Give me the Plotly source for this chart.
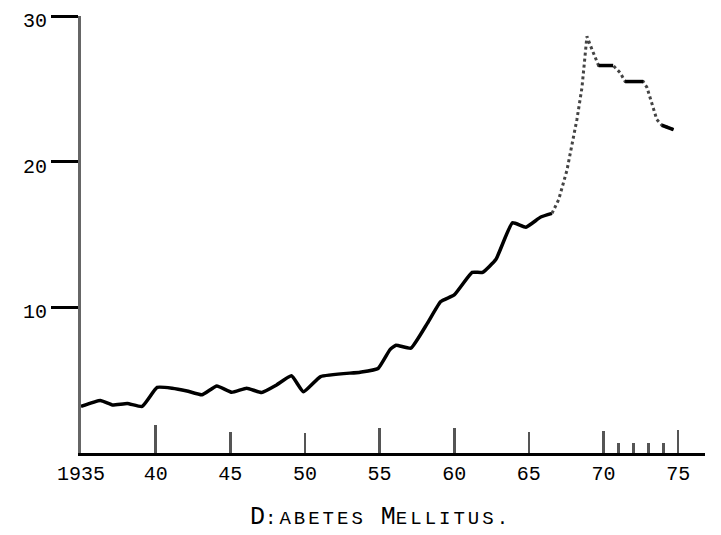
import plotly.graph_objects as go

# (year, rate)
early_years = [1935, 1936.3, 1937.1, 1938.1, 1939.1, 1940.1, 1941.1, 1942.1, 1943.1,
               1944.1, 1945.1, 1946.1, 1947.1, 1948.1, 1949.1, 1949.9, 1951.05,
               1953.7, 1954.9, 1955.7, 1956.1, 1957.1, 1958.2, 1959.1, 1960.0,
               1961.2, 1961.9, 1962.8, 1963.9, 1964.8, 1965.8, 1966.55]
early_vals = [3.2, 3.6, 3.3, 3.4, 3.2, 4.5, 4.45, 4.26, 4.0,
              4.6, 4.17, 4.45, 4.15, 4.67, 5.3, 4.2, 5.25,
              5.55, 5.8, 7.1, 7.4, 7.2, 8.9, 10.4, 10.85,
              12.4, 12.4, 13.3, 15.8, 15.5, 16.2, 16.45]

late_years = [1966.55, 1967.0, 1967.55, 1967.89, 1968.22, 1968.56, 1968.89, 1969.23,
              1969.67, 1970.65, 1971.12, 1971.45, 1972.66, 1972.91, 1973.24, 1973.57,
              1973.91, 1974.69]
late_vals = [16.45, 17.4, 19.4, 21.3, 22.9, 25.1, 28.6, 27.7,
             26.6, 26.6, 26.1, 25.5, 25.5, 25.1, 24.0, 22.9,
             22.5, 22.2]

mark_years = [1940, 1945, 1950, 1955, 1960, 1965, 1970, 1971, 1972, 1973, 1974, 1975]
mark_heights = [1.9, 1.46, 1.4, 1.7, 1.7, 1.45, 1.5, 0.7, 0.7, 0.7, 0.7, 1.6]

x_ticks = [1935, 1940, 1945, 1950, 1955, 1960, 1965, 1970, 1975]
x_labels = ["1935", "40", "45", "50", "55", "60", "65", "70", "75"]
y_ticks = [10, 20, 30]

FONT = "Liberation Mono"

fig = go.Figure()

fig.add_trace(go.Bar(x=mark_years, y=mark_heights, width=0.18,
                     marker=dict(color="#555555", line=dict(width=0)),
                     showlegend=False, hoverinfo="skip"))

fig.add_trace(go.Scatter(x=early_years, y=early_vals, mode="lines",
                         line=dict(color="black", width=3.5, shape="spline", smoothing=0.4),
                         showlegend=False))

fig.add_trace(go.Scatter(x=late_years, y=late_vals, mode="lines",
                         line=dict(color="#444444", width=3, dash="dot"),
                         showlegend=False))

# the flat stretches in the late part are inked solid
for a, b in [(8, 10), (11, 13), (16, 18)]:
    fig.add_trace(go.Scatter(x=late_years[a:b], y=late_vals[a:b], mode="lines",
                             line=dict(color="black", width=3.5),
                             showlegend=False))

# page body adds an 8px offset, so the figure is 8px smaller than the window
fig.update_layout(
    width=713, height=527,
    margin=dict(l=73, r=16, t=8, b=82),
    plot_bgcolor="white", paper_bgcolor="white",
    bargap=0,
    font=dict(family=FONT, size=20, color="black"),
    xaxis=dict(range=[1935, 1976.8], tickvals=x_ticks, ticktext=x_labels,
               showgrid=False, zeroline=False, showline=True,
               linecolor="black", linewidth=3, ticks="", automargin=False,
               tickfont=dict(family=FONT, size=20)),
    yaxis=dict(range=[0, 30], tickvals=y_ticks, showgrid=False, zeroline=False,
               showline=True, linecolor="#666666", linewidth=3,
               ticks="outside", ticklen=27, tickwidth=3, tickcolor="black",
               ticklabeloverflow="allow", ticklabelshift=4, automargin=False,
               tickfont=dict(family=FONT, size=20)),
    annotations=[dict(
        text=("D<span style='font-size:19px;letter-spacing:3px'>:ABETES</span> "
              "M<span style='font-size:19px;letter-spacing:3px'>ELLITUS.</span>"),
        xref="paper", yref="paper", x=0.48, y=0, yshift=-64,
        xanchor="center", yanchor="middle", showarrow=False,
        font=dict(family=FONT, size=25, color="black"))],
)

fig.write_html("out.html")
